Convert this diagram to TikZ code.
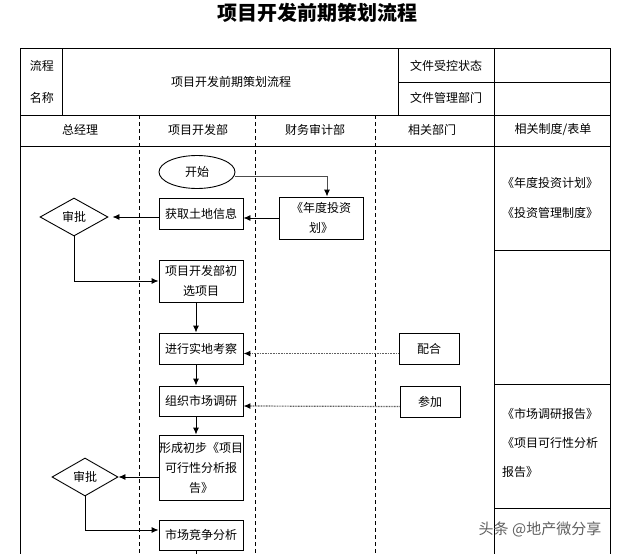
\documentclass[tikz,border=0pt]{standalone}
\usepackage{fontspec}
\setmainfont{Noto Sans CJK SC}
\usetikzlibrary{shapes.geometric,arrows.meta}
\begin{document}
\begin{tikzpicture}[x=1pt,y=-1pt,
  every node/.style={font=\fontsize{12}{20}\selectfont, inner sep=0pt},
  frame/.style={line width=0.9pt, black},
  lane/.style={line width=0.9pt, dash pattern=on 4pt off 3pt},
  box/.style={draw, line width=0.9pt, minimum width=84pt, align=center},
  smallbox/.style={draw, line width=0.9pt, minimum width=60pt, minimum height=31pt},
  decision/.style={draw, diamond, line width=0.9pt, minimum width=68pt, minimum height=38pt},
  flow/.style={line width=0.9pt, -{Latex[length=7pt,width=6pt]}},
  greyflow/.style={line width=1pt, gray!60!black, -{Latex[length=7pt,width=6pt,color=black]}},
  dotflow/.style={line width=1.2pt, gray!75!black, dash pattern=on 0.9pt off 0.7pt, -{Latex[length=7pt,width=6pt,color=black]}},
  reftext/.style={anchor=west, font=\fontsize{12}{20}\selectfont}
]
\useasboundingbox (0,0) rectangle (619,554);
% title
\node[font=\fontsize{20}{24}\selectfont\bfseries] (title) at (317,13) {项目开发前期策划流程};
% table frame
\draw[frame] (20,554) -- (20,48) -- (610,48) -- (610,554);
\draw[frame] (20,115) -- (610,115);
\draw[frame] (20,146) -- (610,146);
\draw[frame] (62,48) -- (62,115);
\draw[frame] (398,48) -- (398,115);
\draw[frame] (494,48) -- (494,554);
\draw[frame] (398,82) -- (610,82);
\draw[frame] (494,250) -- (610,250);
\draw[frame] (494,384) -- (610,384);
\draw[frame] (494,508) -- (610,508);
\draw[lane] (139,115) -- (139,554);
\draw[lane] (255,115) -- (255,554);
\draw[lane] (375,115) -- (375,554);
% header texts
\node (hlc) at (42,66) {流程};
\node (hmc) at (42,98) {名称};
\node (hname) at (231,82) {项目开发前期策划流程};
\node (hstat) at (446,66) {文件受控状态};
\node (hdept) at (446,98) {文件管理部门};
\node (l1) at (80,130) {总经理};
\node (l2) at (198,130) {项目开发部};
\node (l3) at (315,130) {财务审计部};
\node (l4) at (432,130) {相关部门};
\node (l5) at (553,130) {相关制度/表单};
% reference documents
\node[reftext] (r1) at (502,183) {《年度投资计划》};
\node[reftext] (r2) at (502,213) {《投资管理制度》};
\node[reftext] (r3) at (502,414) {《市场调研报告》};
\node[reftext] (r4) at (502,443) {《项目可行性分析};
\node[reftext] (r5) at (502,472) {报告》};
% flow nodes
\node[draw, ellipse, line width=0.9pt, minimum width=76pt, minimum height=33pt] (start) at (197,172) {开始};
\node[box, minimum height=31pt] (getland) at (201,213.5) {获取土地信息};
\node[box, minimum height=42pt] (plan) at (321,218) {《年度投资\\划》};
\node[decision] (sp1) at (74,217) {审批};
\node[box, minimum height=42pt] (select) at (201,281) {项目开发部初\\选项目};
\node[box, minimum height=31pt] (survey) at (201,348.5) {进行实地考察};
\node[smallbox] (peihe) at (429,348.5) {配合};
\node[box, minimum height=30pt] (market) at (201,401) {组织市场调研};
\node[smallbox] (canjia) at (430,401.5) {参加};
\node[box, minimum height=65pt] (report) at (201,467.5) {形成初步《项目\\可行性分析报\\告》};
\node[decision, minimum width=66pt] (sp2) at (85,477) {审批};
\node[box, minimum height=30pt] (compete) at (201,535) {市场竞争分析};
\coordinate (bottom) at (196,554);
% connectors
\draw[greyflow] ([yshift=-4pt]start.east) -| ([xshift=6pt]plan.north);
\draw[flow] (plan.west) -- (plan.west -| getland.east);
\draw[flow, shorten >=4pt] (sp1.east -| getland.west) -- (sp1.east);
\draw[flow] (sp1.south) |- (select.west);
\draw[flow] ([xshift=-5pt]select.south) -- ([xshift=-5pt]survey.north);
\draw[dotflow] ([yshift=-5pt]peihe.west) -- ([yshift=-5pt]survey.east);
\draw[flow] ([xshift=-5pt]survey.south) -- ([xshift=-5pt]market.north);
\draw[dotflow] ([yshift=-5pt]canjia.west) -- ([yshift=-5pt]market.east);
\draw[flow] ([xshift=-5pt]market.south) -- ([xshift=-5pt]report.north);
\draw[flow] (sp2.east -| report.west) -- (sp2.east);
\draw[flow] (sp2.south) |- ([yshift=5pt]compete.west);
\draw[line width=0.9pt] ([xshift=-5pt]compete.south) -- (bottom);
% watermark
\node[font=\fontsize{15}{18}\selectfont, text=gray!75!black] (wm) at (540,529) {头条 @地产微分享};
\end{tikzpicture}
\end{document}
